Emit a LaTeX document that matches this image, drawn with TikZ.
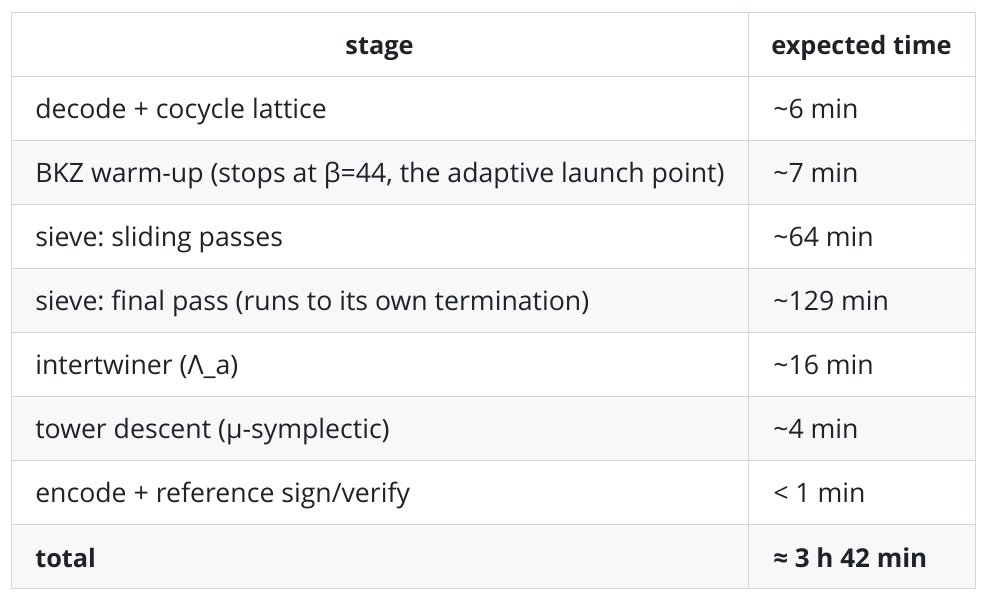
\documentclass[tikz,border=0pt]{standalone}
\usepackage{fontspec}
\setmainfont{Open Sans}
\frenchspacing
\definecolor{gridline}{HTML}{D0D7DE}
\definecolor{stripe}{HTML}{F6F8FA}
\definecolor{ink}{HTML}{1F2328}
\tikzset{
  cell/.style={anchor=base west, inner sep=0pt, text=ink},
  head/.style={anchor=base, inner sep=0pt, text=ink, font=\fontsize{19}{23}\selectfont\bfseries},
}

\begin{document}
\begin{tikzpicture}[x=0.75pt,y=-0.75pt,font=\fontsize{20}{24}\selectfont]
\useasboundingbox (0,0) rectangle (986,598);

% striped rows
\foreach \i in {2,4,6,8}
  \fill[stripe] (11,12.5+64*\i) rectangle (975,76.5+64*\i);

\node[head] (stage) at (379.5,54.3) {stage};
\node[head] (time) at (861.5,54.3) {expected time};

\foreach \i/\stage/\tm in {
  1/{decode + cocycle lattice}/{\textasciitilde6 min},
  2/{BKZ warm-up (stops at β=44, the adaptive launch point)}/{\textasciitilde7 min},
  3/{sieve: sliding passes}/{\textasciitilde64 min},
  4/{sieve: final pass (runs to its own termination)}/{\textasciitilde129 min},
  5/{intertwiner (Λ\_a)}/{\textasciitilde16 min},
  6/{tower descent (μ-symplectic)}/{\textasciitilde4 min},
  7/{encode + reference sign/verify}/{< 1 min},
  8/{\fontsize{19}{23}\selectfont\bfseries total}/{\fontsize{19.5}{23}\selectfont\bfseries ≈ 3 h 42 min}}{
  \node[cell] (s\i) at (35,12.5+64*\i+42.5) {\stage};
  \node[cell] (t\i) at (773,12.5+64*\i+42.5) {\tm};
}

% grid
\foreach \i in {1,...,8}
  \draw[gridline] (11,12.5+64*\i) -- (975,12.5+64*\i);
\draw[gridline] (748,12.5) -- (748,588.5);
\draw[gridline] (11,12.5) rectangle (975,588.5);

\end{tikzpicture}
\end{document}
